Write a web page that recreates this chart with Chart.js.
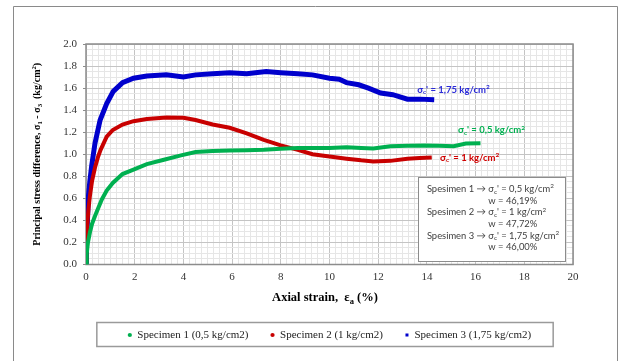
<!DOCTYPE html>
<html>
<head>
<meta charset="utf-8">
<script src="https://cdn.jsdelivr.net/npm/chart.js@4.4.1/dist/chart.umd.min.js"></script>
<style>
  html, body { margin: 0; padding: 0; background: #fff; }
  canvas { display: block; }
</style>
</head>
<body>
<canvas id="triaxialChart" width="619" height="361"></canvas>
<script>
// Axial strain (%) vs principal stress difference (kg/cm2), one pair of arrays per specimen
const strainS1 = [0, 0.03, 0.08, 0.16, 0.25, 0.37, 0.5, 0.65, 0.85, 1.1, 1.5, 1.95, 2.5, 3.2, 3.9, 4.5, 5.2, 5.9, 6.6, 7.3, 8.0, 8.7, 9.3, 10.0, 10.7, 11.3, 11.8, 12.5, 13.2, 13.9, 14.5, 15.1, 15.6, 16.2];
const stressS1 = [0.01, 0.10, 0.20, 0.29, 0.37, 0.44, 0.51, 0.59, 0.67, 0.74, 0.82, 0.86, 0.91, 0.95, 0.99, 1.02, 1.03, 1.033, 1.036, 1.04, 1.05, 1.057, 1.057, 1.057, 1.063, 1.057, 1.052, 1.073, 1.076, 1.079, 1.077, 1.073, 1.097, 1.10];

const strainS2 = [0, 0.02, 0.05, 0.1, 0.16, 0.25, 0.37, 0.5, 0.6, 0.85, 1.1, 1.5, 1.95, 2.5, 3.3, 4.0, 4.5, 5.2, 5.9, 6.6, 7.3, 8.0, 8.7, 9.3, 10.0, 10.7, 11.3, 11.8, 12.5, 13.2, 13.7, 14.2];
const stressS2 = [0.03, 0.15, 0.35, 0.50, 0.62, 0.76, 0.88, 0.98, 1.04, 1.16, 1.22, 1.27, 1.30, 1.32, 1.334, 1.33, 1.31, 1.27, 1.24, 1.19, 1.13, 1.08, 1.04, 1.00, 0.98, 0.96, 0.945, 0.935, 0.94, 0.96, 0.965, 0.97];

const strainS3 = [0, 0.02, 0.05, 0.1, 0.16, 0.23, 0.37, 0.58, 0.85, 1.12, 1.5, 1.95, 2.5, 3.3, 4.0, 4.5, 5.2, 5.9, 6.6, 7.4, 8.0, 8.7, 9.3, 10.0, 10.4, 10.7, 11.2, 11.6, 12.1, 12.6, 13.2, 13.7, 14.3];
const stressS3 = [0.03, 0.20, 0.35, 0.62, 0.76, 0.89, 1.10, 1.31, 1.46, 1.57, 1.65, 1.69, 1.71, 1.72, 1.70, 1.72, 1.73, 1.74, 1.73, 1.75, 1.74, 1.73, 1.72, 1.69, 1.68, 1.65, 1.63, 1.60, 1.555, 1.54, 1.50, 1.50, 1.495];

const seriesNames = ["Specimen 1 (0,5 kg/cm2)", "Specimen 2 (1 kg/cm2)", "Specimen 3 (1,75 kg/cm2)"];
const seriesColors = ["#00b050", "#c80000", "#0000cc"];
const seriesMarkers = ["circle", "circle", "rect"];

const xRange = [0, 20];
const yRange = [0, 2.0];

// text pieces: [text, "sub" | "sup" | undefined]
const curveLabels = [
  { parts: [["σ"], ["c", "sub"], ["' = 1,75 kg/cm"], ["2", "sup"]], at: [13.6, 1.585], color: "#2a2ad8" },
  { parts: [["σ"], ["c", "sub"], ["' = 0,5 kg/cm"], ["2", "sup"]], at: [15.28, 1.217], color: "#00b050" },
  { parts: [["σ"], ["c", "sub"], ["' = 1 kg/cm"], ["2", "sup"]], at: [14.54, 0.97], color: "#d00000" }
];

const noteRows = [
  ["Spesimen 1", "0,5", "46,19%"],
  ["Spesimen 2", "1", "47,72%"],
  ["Spesimen 3", "1,75", "46,00%"]
];

const pairs = (xs, ys) => xs.map((x, i) => ({ x: x, y: ys[i] }));

function fontStr(size, bold, family) {
  return (bold ? "bold " : "") + size + "px " + family;
}

function richWidth(ctx, parts, size, bold, family) {
  let w = 0;
  parts.forEach(p => {
    ctx.font = fontStr(p[1] ? size * 0.68 : size, bold, family);
    w += ctx.measureText(p[0]).width;
  });
  return w;
}

function drawRich(ctx, parts, x, y, size, bold, family, align) {
  let cx = x;
  if (align === "center") cx = x - richWidth(ctx, parts, size, bold, family) / 2;
  ctx.textBaseline = "middle";
  ctx.textAlign = "left";
  parts.forEach(p => {
    const small = !!p[1];
    ctx.font = fontStr(small ? size * 0.68 : size, bold, family);
    let dy = 0;
    if (p[1] === "sub") dy = size * 0.28;
    if (p[1] === "sup") dy = -size * 0.28;
    ctx.fillText(p[0], cx, y + dy);
    cx += ctx.measureText(p[0]).width;
  });
}

const isMultiple = (v, step) => Math.abs(v / step - Math.round(v / step)) < 1e-6;

const decorPlugin = {
  id: "decor",
  beforeDraw(chart) {
    const ctx = chart.ctx;
    ctx.save();
    ctx.strokeStyle = "#8a8a8a";
    ctx.lineWidth = 1;
    ctx.beginPath();
    ctx.moveTo(13.5, chart.height + 2);
    ctx.lineTo(13.5, 6.5);
    ctx.lineTo(617.5, 6.5);
    ctx.lineTo(617.5, chart.height + 2);
    ctx.stroke();
    ctx.restore();
  },
  beforeDatasetsDraw(chart) {
    const { ctx, chartArea: a } = chart;
    ctx.save();
    ctx.strokeStyle = "#8c8c8c";
    ctx.lineWidth = 1.5;
    ctx.strokeRect(a.left, a.top, a.right - a.left, a.bottom - a.top);
    ctx.restore();
  },
  afterDraw(chart) {
    const { ctx, chartArea: a } = chart;
    const xs = chart.scales.x, ys = chart.scales.y;
    ctx.save();

    // curve captions
    curveLabels.forEach(l => {
      ctx.fillStyle = l.color;
      drawRich(ctx, l.parts, xs.getPixelForValue(l.at[0]), ys.getPixelForValue(l.at[1]), 9.5, true, "Lato", "left");
    });

    // specimen note box
    const bx = xs.getPixelForValue(13.63), bx2 = xs.getPixelForValue(19.67);
    const by = ys.getPixelForValue(0.79), by2 = ys.getPixelForValue(0.03);
    ctx.fillStyle = "#fff";
    ctx.fillRect(bx, by, bx2 - bx, by2 - by);
    ctx.strokeStyle = "#8c8c8c";
    ctx.lineWidth = 1;
    ctx.strokeRect(Math.round(bx) + 0.5, Math.round(by) + 0.5, Math.round(bx2 - bx), Math.round(by2 - by));
    ctx.fillStyle = "#404040";
    const fs = 9.4;
    let ty = by + 11.5;
    noteRows.forEach(r => {
      const head = r[0] + " → ";
      ctx.font = fontStr(fs, false, "Lato");
      const indent = ctx.measureText(head).width;
      drawRich(ctx, [[head + "σ"], ["c", "sub"], ["' = " + r[1] + " kg/cm"], ["2", "sup"]], bx + 9, ty, fs, false, "Lato", "left");
      drawRich(ctx, [["w = " + r[2]]], bx + 9 + indent, ty + 11.7, fs, false, "Lato", "left");
      ty += 23.4;
    });

    // axis titles
    ctx.fillStyle = "#000";
    drawRich(ctx, [["Axial strain,  ε"], ["a", "sub"], [" (%)"]], 325, 298, 12.5, true, "Liberation Serif", "center");
    ctx.translate(37, (a.top + a.bottom) / 2);
    ctx.rotate(-Math.PI / 2);
    drawRich(ctx, [["Principal stress difference, σ"], ["1", "sub"], [" - σ"], ["3", "sub"], ["  (kg/cm"], ["2", "sup"], [")"]], 0, 0, 10, true, "Liberation Serif", "center");
    ctx.restore();

    // frame round the legend
    const boxes = chart.legend.legendHitBoxes;
    if (boxes && boxes.length) {
      const first = boxes[0], last = boxes[boxes.length - 1];
      const cy = first.top + first.height / 2;
      const left = first.left - 31;
      ctx.save();
      ctx.strokeStyle = "#9a9a9a";
      ctx.lineWidth = 1.5;
      ctx.strokeRect(left, cy - 12.5, last.left + last.width + 22 - left, 24);
      ctx.restore();
    }
  }
};

const datasets = [
  pairs(strainS1, stressS1),
  pairs(strainS2, stressS2),
  pairs(strainS3, stressS3)
].map((d, i) => ({
  label: seriesNames[i],
  data: d,
  showLine: true,
  borderColor: seriesColors[i],
  backgroundColor: seriesColors[i],
  borderWidth: i === 2 ? 5 : 4,
  pointRadius: 0,
  pointStyle: seriesMarkers[i],
  tension: 0
}));

const chart = new Chart(document.getElementById("triaxialChart"), {
  type: "scatter",
  data: { datasets: datasets },
  plugins: [decorPlugin],
  options: {
    responsive: false,
    animation: false,
    events: [],
    layout: { padding: { top: 44, right: 46, left: 0, bottom: 10.5 } },
    scales: {
      x: {
        type: "linear",
        min: xRange[0],
        max: xRange[1],
        afterFit: s => { s.height = 43; },
        border: { display: false },
        grid: {
          color: c => isMultiple(c.tick.value, 2) ? "#c4c4c4" : "#e6e6e6",
          tickColor: "rgba(0,0,0,0)",
          tickLength: 3,
          lineWidth: 1
        },
        ticks: {
          stepSize: 0.25,
          autoSkip: false,
          maxRotation: 0,
          padding: 3,
          color: "#333",
          font: { family: "Liberation Serif", size: 11 },
          callback: v => isMultiple(v, 2) ? String(Math.round(v)) : ""
        }
      },
      y: {
        min: yRange[0],
        max: yRange[1],
        afterFit: s => { s.width = 86; },
        border: { display: false },
        grid: {
          color: c => isMultiple(c.tick.value, 0.2) ? "#c4c4c4" : "#e6e6e6",
          tickColor: c => isMultiple(c.tick.value, 0.2) ? "#8c8c8c" : "rgba(0,0,0,0)",
          tickLength: 3,
          lineWidth: 1
        },
        ticks: {
          stepSize: 0.05,
          autoSkip: false,
          padding: 6,
          color: "#333",
          font: { family: "Liberation Serif", size: 11 },
          callback: v => isMultiple(v, 0.2) ? v.toFixed(1) : ""
        }
      }
    },
    plugins: {
      tooltip: { enabled: false },
      legend: {
        position: "bottom",
        fullSize: false,
        maxHeight: 43,
        labels: {
          usePointStyle: true,
          boxWidth: 4,
          boxHeight: 3,
          padding: 22,
          color: "#222",
          font: { family: "Liberation Serif", size: 11 },
          generateLabels: c => Chart.defaults.plugins.legend.labels.generateLabels(c).map(l => Object.assign(l, { lineWidth: 0 }))
        }
      }
    }
  }
});
</script>
</body>
</html>
